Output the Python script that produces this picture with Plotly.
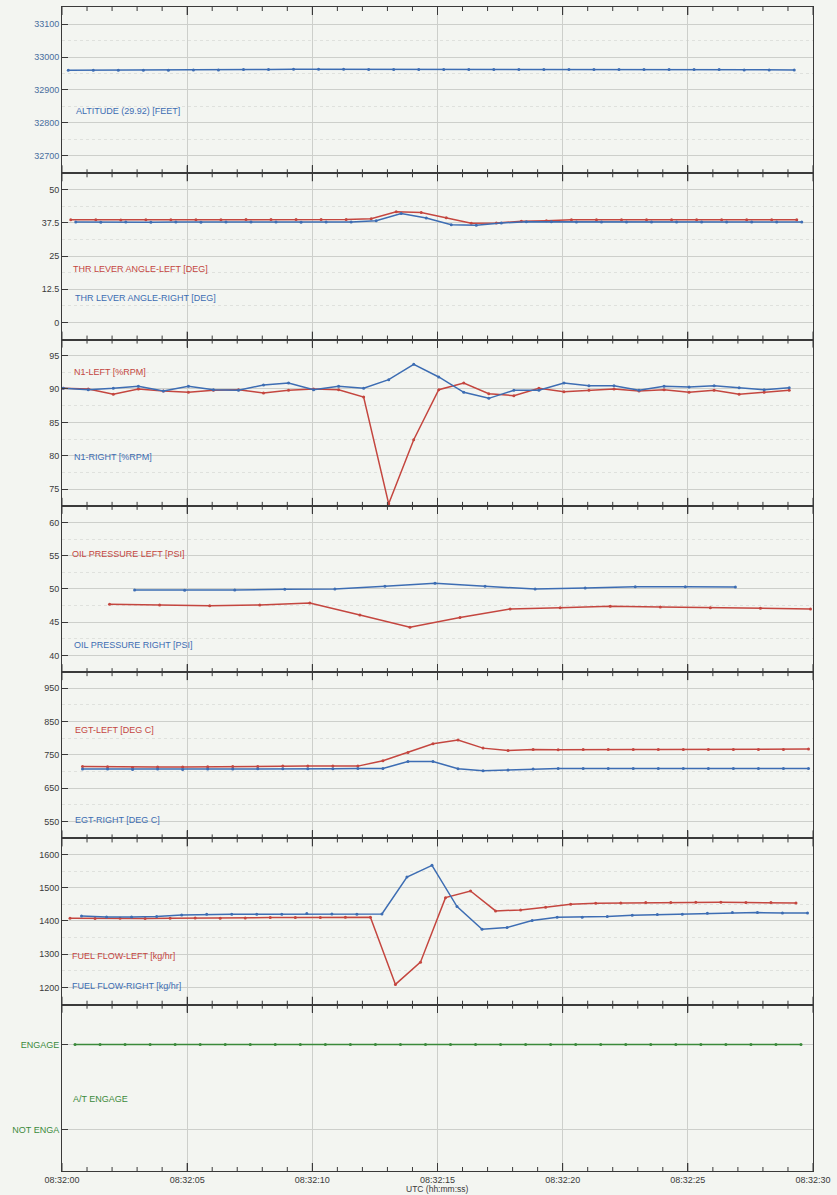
import pandas as pd
import plotly.graph_objects as go
from plotly.subplots import make_subplots

# ---------------- data ----------------
t_start = "2000-01-01 08:32:00"   # time axis origin (UTC)
t_end = "2000-01-01 08:32:30"
tick_secs = [0, 1, 2, 3, 4, 5, 6, 7, 8, 9, 10, 11, 12, 13, 14, 15, 16, 17, 18, 19, 20,
             21, 22, 23, 24, 25, 26, 27, 28, 29, 30]

alt_t = [0.25, 1.25, 2.25, 3.25, 4.25, 5.25, 6.25, 7.25, 8.25, 9.25, 10.25, 11.25, 12.25, 13.25, 14.25,
         15.25, 16.25, 17.25, 18.25, 19.25, 20.25, 21.25, 22.25, 23.25, 24.25, 25.25, 26.25, 27.25, 28.25, 29.25]
alt_v = [32960, 32960, 32960, 32960, 32960, 32961, 32961, 32962, 32962, 32963, 32963, 32963, 32962, 32962, 32962,
         32962, 32962, 32962, 32962, 32962, 32962, 32962, 32962, 32962, 32962, 32962, 32962, 32961, 32961, 32961]

tla_l_t = [0.35, 1.35, 2.35, 3.35, 4.35, 5.35, 6.35, 7.35, 8.35, 9.35, 10.35, 11.35, 12.35, 13.35, 14.35,
           15.35, 16.35, 17.35, 18.35, 19.35, 20.35, 21.35, 22.35, 23.35, 24.35, 25.35, 26.35, 27.35, 28.35, 29.35]
tla_l_v = [38.6, 38.6, 38.5, 38.6, 38.6, 38.6, 38.6, 38.7, 38.7, 38.7, 38.7, 38.7, 39.0, 41.6, 41.4,
           39.4, 37.3, 37.4, 38.1, 38.3, 38.6, 38.6, 38.6, 38.6, 38.6, 38.6, 38.6, 38.6, 38.6, 38.6]
tla_r_t = [0.55, 1.55, 2.55, 3.55, 4.55, 5.55, 6.55, 7.55, 8.55, 9.55, 10.55, 11.55, 12.55, 13.55, 14.55,
           15.55, 16.55, 17.55, 18.55, 19.55, 20.55, 21.55, 22.55, 23.55, 24.55, 25.55, 26.55, 27.55, 28.55, 29.55]
tla_r_v = [37.8, 37.7, 37.8, 37.7, 37.8, 37.7, 37.8, 37.8, 37.8, 37.7, 37.8, 37.8, 38.3, 41.0, 39.3,
           36.8, 36.6, 37.4, 37.9, 37.9, 37.8, 37.8, 37.8, 37.8, 37.8, 37.8, 37.8, 37.8, 37.8, 37.8]

n1_t = [0.05, 1.05, 2.05, 3.05, 4.05, 5.05, 6.05, 7.05, 8.05, 9.05, 10.05, 11.05, 12.05, 13.05, 14.05,
        15.05, 16.05, 17.05, 18.05, 19.05, 20.05, 21.05, 22.05, 23.05, 24.05, 25.05, 26.05, 27.05, 28.05, 29.05]
n1_l_v = [90.1, 90.0, 89.2, 90.0, 89.7, 89.5, 89.8, 89.9, 89.4, 89.8, 90.0, 89.9, 88.8, 72.8, 82.4,
          89.9, 90.9, 89.3, 89.0, 90.1, 89.6, 89.8, 90.0, 89.7, 89.9, 89.5, 89.8, 89.2, 89.5, 89.8]
n1_r_v = [90.1, 89.9, 90.1, 90.4, 89.7, 90.4, 89.9, 89.8, 90.6, 90.9, 89.9, 90.4, 90.1, 91.4, 93.7,
          91.8, 89.5, 88.6, 89.8, 89.8, 90.9, 90.5, 90.5, 89.8, 90.4, 90.3, 90.5, 90.2, 89.9, 90.2]

oil_l_t = [1.9, 3.9, 5.9, 7.9, 9.9, 11.9, 13.9, 15.9, 17.9, 19.9, 21.9, 23.9, 25.9, 27.9, 29.9]
oil_l_v = [47.7, 47.6, 47.5, 47.6, 47.9, 46.1, 44.25, 45.7, 47.0, 47.2, 47.4, 47.3, 47.2, 47.1, 47.0]
oil_r_t = [2.9, 4.9, 6.9, 8.9, 10.9, 12.9, 14.9, 16.9, 18.9, 20.9, 22.9, 24.9, 26.9]
oil_r_v = [49.85, 49.8, 49.85, 49.95, 50.0, 50.4, 50.85, 50.4, 50.0, 50.15, 50.35, 50.35, 50.3]

egt_t = [0.82, 1.82, 2.82, 3.82, 4.82, 5.82, 6.82, 7.82, 8.82, 9.82, 10.82, 11.82, 12.82, 13.82, 14.82,
         15.82, 16.82, 17.82, 18.82, 19.82, 20.82, 21.82, 22.82, 23.82, 24.82, 25.82, 26.82, 27.82, 28.82, 29.82]
egt_l_v = [715, 714, 712, 713, 713, 714, 715, 715, 716, 716, 716, 716, 732, 757, 783,
           794, 770, 763, 766, 765, 766, 766, 766, 766, 766, 766, 766, 766, 766, 767]
egt_r_v = [707, 707, 706, 707, 706, 707, 707, 708, 708, 708, 708, 709, 709, 730, 730,
           708, 702, 704, 707, 709, 709, 709, 709, 709, 709, 709, 709, 709, 709, 709]

ff_l_t = [0.32, 1.32, 2.32, 3.32, 4.32, 5.32, 6.32, 7.32, 8.32, 9.32, 10.32, 11.32, 12.32, 13.32, 14.32,
          15.32, 16.32, 17.32, 18.32, 19.32, 20.32, 21.32, 22.32, 23.32, 24.32, 25.32, 26.32, 27.32, 28.32, 29.32]
ff_l_v = [1408, 1407, 1408, 1407, 1408, 1409, 1408, 1409, 1410, 1410, 1410, 1411, 1411, 1209, 1276,
          1470, 1490, 1430, 1433, 1441, 1450, 1453, 1454, 1455, 1455, 1456, 1456, 1455, 1455, 1454]
ff_r_t = [0.78, 1.78, 2.78, 3.78, 4.78, 5.78, 6.78, 7.78, 8.78, 9.78, 10.78, 11.78, 12.78, 13.78, 14.78,
          15.78, 16.78, 17.78, 18.78, 19.78, 20.78, 21.78, 22.78, 23.78, 24.78, 25.78, 26.78, 27.78, 28.78, 29.78]
ff_r_v = [1415, 1412, 1412, 1413, 1418, 1420, 1420, 1420, 1420, 1422, 1421, 1420, 1421, 1532, 1567,
          1443, 1375, 1380, 1401, 1411, 1411, 1413, 1417, 1419, 1420, 1423, 1425, 1425, 1424, 1424]

at_t = [0.52, 1.52, 2.52, 3.52, 4.52, 5.52, 6.52, 7.52, 8.52, 9.52, 10.52, 11.52, 12.52, 13.52, 14.52,
        15.52, 16.52, 17.52, 18.52, 19.52, 20.52, 21.52, 22.52, 23.52, 24.52, 25.52, 26.52, 27.52, 28.52, 29.52]
at_v = [1, 1, 1, 1, 1, 1, 1, 1, 1, 1, 1, 1, 1, 1, 1, 1, 1, 1, 1, 1, 1, 1, 1, 1, 1, 1, 1, 1, 1, 1]
at_tickvals = [0, 1]
at_ticktext = ["NOT ENGA", "ENGAGE"]

# ---------------- styling ----------------
RED = "#c4463f"
BLUE = "#3d6db3"
GREEN = "#3b8a3b"
BG = "#f3f5f1"
AXC = "#3a3a3a"
GRID = "#cdcfcb"
MGRID = "#dfe1dd"
FONT = "Arial, Liberation Sans, sans-serif"

W, H = 837, 1195
ML, MR, MT, MB = 62, 19, 6, 24
PW, PH = W - ML - MR, H - MT - MB

base = pd.Timestamp(t_start)


def to_time(secs):
    return [base + pd.Timedelta(seconds=s) for s in secs]


fig = make_subplots(rows=7, cols=1, shared_xaxes=False, vertical_spacing=0)

panels = [
    [(alt_t, alt_v, BLUE)],
    [(tla_l_t, tla_l_v, RED), (tla_r_t, tla_r_v, BLUE)],
    [(n1_t, n1_l_v, RED), (n1_t, n1_r_v, BLUE)],
    [(oil_l_t, oil_l_v, RED), (oil_r_t, oil_r_v, BLUE)],
    [(egt_t, egt_l_v, RED), (egt_t, egt_r_v, BLUE)],
    [(ff_l_t, ff_l_v, RED), (ff_r_t, ff_r_v, BLUE)],
    [(at_t, at_v, GREEN)],
]

for row, series in enumerate(panels, start=1):
    for t, v, color in series:
        fig.add_trace(go.Scatter(x=to_time(t), y=v, mode="lines+markers",
                                 line=dict(color=color, width=1.5),
                                 marker=dict(color=color, size=3),
                                 showlegend=False, hoverinfo="skip"), row=row, col=1)

yconf = [
    dict(range=[32647, 33152], tick0=32700, dtick=100, fc="#4a6f9e"),
    dict(range=[-6.4, 56.1], tick0=0, dtick=12.5, fc=AXC),
    dict(range=[72.5, 97.4], tick0=75, dtick=5, fc=AXC),
    dict(range=[37.5, 62.5], tick0=40, dtick=5, fc=AXC),
    dict(range=[499, 998], tick0=550, dtick=100, fc=AXC),
    dict(range=[1148, 1648], tick0=1200, dtick=100, fc=AXC),
    dict(range=[-0.49, 1.47], fc=GREEN),
]

tick_times = to_time(tick_secs)
shapes = []
for i, c in enumerate(yconf, start=1):
    ya = dict(range=c["range"], ticks="inside", ticklen=6,
              tickcolor=AXC, showline=True, linecolor=AXC, linewidth=1, mirror=True,
              showgrid=True, gridcolor=GRID, gridwidth=1, zeroline=False,
              tickfont=dict(family=FONT, size=9, color=c["fc"]), fixedrange=True)
    if "dtick" in c:
        ya.update(tickmode="linear", tick0=c["tick0"], dtick=c["dtick"], tickformat="~r" if i != 1 else "d",
                  minor=dict(tickmode="linear", dtick=c["dtick"] / 2, showgrid=True,
                             gridcolor=MGRID, griddash="dot", ticks=""))
    else:
        ya.update(tickmode="array", tickvals=at_tickvals, ticktext=at_ticktext)
    fig.update_yaxes(row=i, col=1, **ya)

    xa = dict(type="date", range=[t_start, t_end], tickmode="linear", tick0=t_start, dtick=5000,
              tickformat="%H:%M:%S",
              ticks="inside", ticklen=8, tickcolor=AXC, tickwidth=1,
              showline=True, linecolor=AXC, linewidth=1, mirror="allticks",
              showgrid=True, gridcolor=GRID, gridwidth=1, zeroline=False,
              showticklabels=(i == 7),
              tickfont=dict(family=FONT, size=9, color=AXC), fixedrange=True)
    fig.update_xaxes(row=i, col=1, **xa)

    # 1-second tick marks on the top and bottom edges of each panel (axis decoration)
    xr = "x" if i == 1 else "x%d" % i
    yr = ("y" if i == 1 else "y%d" % i) + " domain"
    for s, tt in zip(tick_secs, tick_times):
        ln = 8 if s % 5 == 0 else 4
        for anchor, y0, y1 in ((0, 0, ln), (1, -ln, 0)):
            shapes.append(dict(type="line", xref=xr, yref=yr, x0=tt, x1=tt,
                               ysizemode="pixel", yanchor=anchor, y0=y0, y1=y1,
                               line=dict(color=AXC, width=1), layer="above"))

fig.update_layout(shapes=shapes)


def px2paper(px, py):
    return (px - ML) / PW, 1 - (py - MT) / PH


labels = [
    ("ALTITUDE (29.92) [FEET]", 74, 110, BLUE),
    ("THR LEVER ANGLE-LEFT [DEG]", 71, 268, RED),
    ("THR LEVER ANGLE-RIGHT [DEG]", 73, 297, BLUE),
    ("N1-LEFT [%RPM]", 72, 371, RED),
    ("N1-RIGHT [%RPM]", 72, 456, BLUE),
    ("OIL PRESSURE LEFT [PSI]", 70, 553, RED),
    ("OIL PRESSURE RIGHT [PSI]", 72, 645, BLUE),
    ("EGT-LEFT [DEG C]", 73, 730, RED),
    ("EGT-RIGHT [DEG C]", 73, 820, BLUE),
    ("FUEL FLOW-LEFT [kg/hr]", 70, 956, RED),
    ("FUEL FLOW-RIGHT [kg/hr]", 70, 986, BLUE),
    ("A/T ENGAGE", 71, 1099, GREEN),
]
for text, px, py, col in labels:
    ax, ay = px2paper(px, py)
    fig.add_annotation(text=text, x=ax, y=ay, xref="paper", yref="paper",
                       xanchor="left", yanchor="middle", showarrow=False,
                       font=dict(family=FONT, size=9, color=col))

tx, ty = px2paper(440, 1189)
fig.add_annotation(text="UTC (hh:mm:ss)", x=tx, y=ty, xref="paper", yref="paper",
                   xanchor="center", yanchor="middle", showarrow=False,
                   font=dict(family=FONT, size=8.5, color=AXC))

fig.update_layout(width=W, height=H, margin=dict(l=ML, r=MR, t=MT, b=MB, pad=0),
                  paper_bgcolor=BG, plot_bgcolor=BG, showlegend=False,
                  font=dict(family=FONT, size=9, color=AXC))

fig.write_html("out.html", config={"displayModeBar": False},
               post_script="document.body.style.margin='0';document.body.style.background='%s';" % BG)
